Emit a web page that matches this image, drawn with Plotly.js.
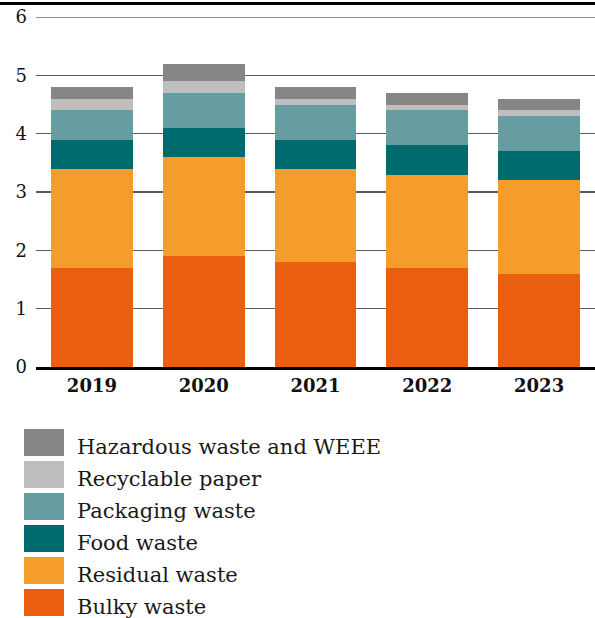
<!DOCTYPE html>
<html>
<head>
<meta charset="utf-8">
<script src="https://cdn.plot.ly/plotly-3.0.1.min.js"></script>
<style>
html,body{margin:0;padding:0;background:#fff;}
#chart{width:595px;height:618px;}
</style>
</head>
<body>
<div id="chart"></div>
<script>
// Data
const years = ["2019", "2020", "2021", "2022", "2023"];
const bulkyWaste = [1.7, 1.9, 1.8, 1.7, 1.6];
const residualWaste = [1.7, 1.7, 1.6, 1.6, 1.6];
const foodWaste = [0.5, 0.5, 0.5, 0.5, 0.5];
const packagingWaste = [0.5, 0.6, 0.6, 0.6, 0.6];
const recyclablePaper = [0.2, 0.2, 0.1, 0.1, 0.1];
const hazardousWaste = [0.2, 0.3, 0.2, 0.2, 0.2];
const seriesNames = ["Bulky waste", "Residual waste", "Food waste", "Packaging waste", "Recyclable paper", "Hazardous waste and WEEE"];
const yTicks = [0, 1, 2, 3, 4, 5, 6];

const seriesValues = [bulkyWaste, residualWaste, foodWaste, packagingWaste, recyclablePaper, hazardousWaste];
const colors = ["#E95E0F", "#F59D2C", "#006B6E", "#669DA1", "#BEBEBE", "#868686"];

const W = 595, H = 618;
const M = {l: 36, r: 0, t: 17, b: 251};
const plotW = W - M.l - M.r, plotH = H - M.t - M.b;
const px2x = px => (px - M.l) / plotW;
const py2y = py => (H - M.b - py) / plotH;

const FONT = "'DejaVu Serif', Georgia, serif";

const traces = seriesNames.map((name, i) => ({
  type: "bar",
  name: name,
  x: years,
  y: seriesValues[i],
  marker: {color: colors[i], line: {width: 0}},
  hoverinfo: "skip",
  showlegend: false
}));

const shapes = [];
const annotations = [];
// Gridline at the top tick (Plotly skips grid at the range edge)
shapes.push({
  type: "line", xref: "paper", yref: "y",
  x0: 0, x1: 1, y0: yTicks[yTicks.length - 1], y1: yTicks[yTicks.length - 1],
  line: {color: "#6a6a6a", width: 1.5}, layer: "below"
});
// Manual legend: top entry is the last series
const order = seriesNames.map((_, i) => i).reverse();
order.forEach((si, row) => {
  const top = 429 + 32 * row;
  shapes.push({
    type: "rect", xref: "paper", yref: "paper",
    x0: px2x(24), x1: px2x(64), y0: py2y(top), y1: py2y(top + 27),
    fillcolor: colors[si], line: {width: 0}
  });
  annotations.push({
    xref: "paper", yref: "paper",
    x: px2x(75), y: py2y(top + 17.5),
    xanchor: "left", yanchor: "middle",
    text: seriesNames[si], showarrow: false,
    font: {family: FONT, size: 21, color: "#1a1a1a"}
  });
});
// Top rule
shapes.push({
  type: "line", xref: "paper", yref: "paper",
  x0: px2x(0), x1: 1, y0: py2y(3.5), y1: py2y(3.5),
  line: {color: "#000", width: 3}
});

const layout = {
  width: W, height: H,
  margin: M,
  barmode: "stack",
  bargap: 0.27,
  paper_bgcolor: "#fff",
  plot_bgcolor: "#fff",
  showlegend: false,
  xaxis: {
    type: "category",
    range: [-0.5, 4.5],
    showline: true, linecolor: "#000", linewidth: 3,
    showgrid: false, ticks: "",
    tickfont: {family: FONT, size: 18, color: "#111", weight: "bold"},
    fixedrange: true
  },
  yaxis: {
    range: [0, 6],
    tickvals: yTicks,
    ticktext: yTicks.map(String),
    showgrid: true, gridcolor: "#5a5a5a", gridwidth: 1.5,
    zeroline: false, showline: false, ticks: "",
    ticklabelstandoff: 8,
    tickfont: {family: FONT, size: 18, color: "#111"},
    fixedrange: true
  },
  shapes: shapes,
  annotations: annotations
};

Plotly.newPlot("chart", traces, layout, {displayModeBar: false, staticPlot: true});
</script>
</body>
</html>
